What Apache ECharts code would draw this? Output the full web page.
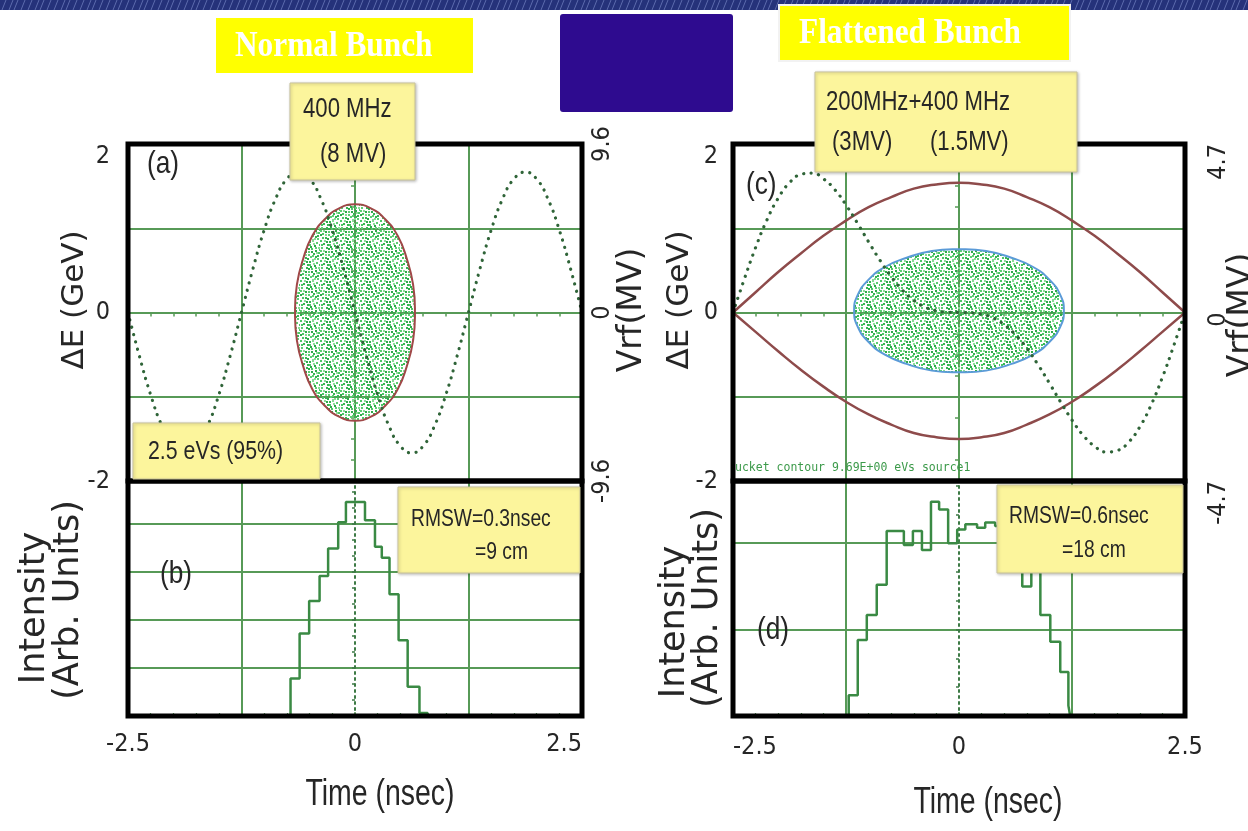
<!DOCTYPE html>
<html><head><meta charset="utf-8">
<script src="https://cdn.jsdelivr.net/npm/echarts@6/dist/echarts.min.js"></script>
<style>html,body{margin:0;padding:0;background:#fff}#c{width:1248px;height:831px}</style>
</head><body><div id="c"></div>
<script>
// ---------------- data ----------------
const T_RF = [-2.5,-2.375,-2.25,-2.125,-2,-1.875,-1.75,-1.625,-1.5,-1.375,-1.25,-1.125,-1,-0.875,-0.75,-0.625,-0.5,-0.375,-0.25,-0.125,0,0.125,0.25,0.375,0.5,0.625,0.75,0.875,1,1.125,1.25,1.375,1.5,1.625,1.75,1.875,2,2.125,2.25,2.375,2.5];
// (a) 400 MHz, 8 MV RF voltage (MV)
const VRF_A = [0,-2.47,-4.70,-6.47,-7.61,-8.00,-7.61,-6.47,-4.70,-2.47,0,2.47,4.70,6.47,7.61,8.00,7.61,6.47,4.70,2.47,0,-2.47,-4.70,-6.47,-7.61,-8.00,-7.61,-6.47,-4.70,-2.47,0,2.47,4.70,6.47,7.61,8.00,7.61,6.47,4.70,2.47,0];
// (c) 200 MHz (3 MV) + 400 MHz (1.5 MV) RF voltage (MV)
const VRF_C = [0,0.93,1.81,2.58,3.19,3.62,3.85,3.89,3.73,3.43,3.00,2.50,1.97,1.46,1.00,0.62,0.34,0.15,0.05,0.01,0,-0.01,-0.05,-0.15,-0.34,-0.62,-1.00,-1.46,-1.97,-2.50,-3.00,-3.43,-3.73,-3.89,-3.85,-3.62,-3.19,-2.58,-1.81,-0.93,0];
// (a) bunch contour (ns, GeV)
const ELL_A_T = [0.66,0.64,0.57,0.47,0.33,0.17,0,-0.17,-0.33,-0.47,-0.57,-0.64,-0.66,-0.64,-0.57,-0.47,-0.33,-0.17,0,0.17,0.33,0.47,0.57,0.64];
const ELL_A_E = [0,0.33,0.64,0.91,1.11,1.24,1.285,1.24,1.11,0.91,0.64,0.33,0,-0.33,-0.64,-0.91,-1.11,-1.24,-1.285,-1.24,-1.11,-0.91,-0.64,-0.33];
// (c) bunch contour (ns, GeV)
const ELL_C_T = [1.16,1.12,1.00,0.82,0.58,0.30,0,-0.30,-0.58,-0.82,-1.00,-1.12,-1.16,-1.12,-1.00,-0.82,-0.58,-0.30,0,0.30,0.58,0.82,1.00,1.12];
const ELL_C_E = [0.02,0.21,0.39,0.54,0.65,0.73,0.75,0.73,0.65,0.54,0.39,0.21,0.02,-0.17,-0.35,-0.50,-0.61,-0.69,-0.71,-0.69,-0.61,-0.50,-0.35,-0.17];
// (c) bucket separatrix
const SEP_T = [-2.5,-2.25,-2,-1.75,-1.5,-1.25,-1,-0.75,-0.5,-0.25,0,0.25,0.5,0.75,1,1.25,1.5,1.75,2,2.25,2.5];
const SEP_UP = [0,0.24,0.48,0.70,0.91,1.09,1.25,1.37,1.47,1.52,1.54,1.52,1.47,1.37,1.25,1.09,0.91,0.70,0.48,0.24,0];
const SEP_LO = [0,-0.23,-0.46,-0.68,-0.88,-1.06,-1.21,-1.33,-1.43,-1.48,-1.50,-1.48,-1.43,-1.33,-1.21,-1.06,-0.88,-0.68,-0.46,-0.23,0];
// (b) bunch profile histogram: bin edges (ns) and heights (arb.)
const HB_EDGES = [-0.71,-0.61,-0.505,-0.39,-0.296,-0.185,-0.10,0.11,0.22,0.295,0.38,0.48,0.58,0.71,0.80];
const HB_H = [0.78,1.72,2.40,2.92,3.49,4.04,4.46,4.08,3.53,3.30,2.54,1.58,0.61,0.06];
// (d) bunch profile histogram
const HD_EDGES = [-1.22,-1.12,-1.02,-0.91,-0.80,-0.61,-0.51,-0.41,-0.31,-0.22,-0.12,-0.02,0.07,0.20,0.29,0.40,0.50,0.60,0.70,0.80,0.90,1.01,1.12,1.21,1.23];
const HD_H = [0.24,0.88,1.17,1.52,2.14,1.98,2.14,1.92,2.48,2.39,2.00,2.16,2.22,2.18,2.24,2.20,2.05,1.85,1.50,1.72,1.17,0.86,0.51,0.12];
// tick labels
const TIME_LABELS = [-2.5, 0, 2.5];
const DE_LABELS = [-2, 0, 2];
const VRF_A_LABELS = [-9.6, 0, 9.6];
const VRF_C_LABELS = [-4.7, 0, 4.7];

// ---------------- helpers ----------------
const zip = (a, b) => a.map((v, i) => [v, b[i]]);
function stepData(edges, h) {
  const d = [[edges[0], 0]];
  h.forEach((v, i) => d.push([edges[i], v]));
  d.push([edges[edges.length - 1], 0]);
  return d;
}
const NARROW = '"Liberation Sans Narrow","DejaVu Sans Condensed","Liberation Sans",sans-serif';
const SANS = '"Liberation Sans",Arial,sans-serif';
const WIDE = '"DejaVu Sans","Verdana",sans-serif';
const G = '#579a57';
const TXT = '#262626';

function dotTile() {
  const c = document.createElement('canvas'); c.width = 20; c.height = 20;
  const g = c.getContext('2d');
  const cols = ['#4cc766', '#2eaa4a', '#8adb97', '#5ccf73', '#37b653'];
  const p = [[0,0],[6,1],[12,0],[16,2],[3,3],[9,4],[14,5],[18,7],[1,7],[6,7],[11,8],[15,10],[3,10],[8,11],[13,13],[18,12],[0,14],[5,14],[10,16],[15,16],[2,17],[7,18],[12,19],[17,18],[9,1],[19,4],[5,11],[13,3],[8,14],[17,15],[2,13],[11,11],
             [4,0],[15,7],[7,4],[1,4],[10,6],[16,12],[12,15],[5,17],[19,9],[8,8],[14,18],[0,10]];
  p.forEach((q, i) => { g.fillStyle = cols[i % 5]; g.fillRect(q[0], q[1], 2, 2); });
  return c;
}
function bannerTile() {
  const c = document.createElement('canvas'); c.width = 26; c.height = 10;
  const g = c.getContext('2d');
  g.fillStyle = '#25327a'; g.fillRect(0, 0, 26, 10);
  g.strokeStyle = 'rgba(150,165,225,0.5)'; g.lineWidth = 1;
  [[2,0],[9,0],[14,0],[21,0]].forEach(q => { g.beginPath(); g.moveTo(q[0], 10); g.lineTo(q[0] + 4, 0); g.stroke(); });
  return c;
}
const DOTS = { image: dotTile(), repeat: 'repeat' };
const BANNER = { image: bannerTile(), repeat: 'repeat' };

function polyRender(T, E, stroke) {
  return function (params, api) {
    const pts = T.map((t, i) => api.coord([t, E[i]]));
    return { type: 'polygon', shape: { points: pts, smooth: 0.5 },
      style: { fill: DOTS, stroke: stroke, lineWidth: 2 } };
  };
}

const lbl = (extra) => Object.assign({ fontFamily: NARROW, fontSize: 25, color: TXT }, extra);

function upperX(gi) {
  return { gridIndex: gi, type: 'value', min: -2.5, max: 2.5, interval: 1.25,
    axisLine: { show: true, onZero: true, lineStyle: { color: G, width: 2 } },
    axisTick: { show: true, length: 4, lineStyle: { color: G, width: 1.5 } },
    minorTick: { show: true, splitNumber: 5, length: 4, lineStyle: { color: G, width: 1.5 } },
    axisLabel: { show: false },
    splitLine: { show: true, lineStyle: { color: G, width: 2 } } };
}
function lowerX(gi, margin, minAlign, maxAlign) {
  return { gridIndex: gi, type: 'value', min: -2.5, max: 2.5, interval: 1.25,
    axisLine: { show: false, onZero: false },
    axisTick: { show: true, inside: true, length: 4, lineStyle: { color: G, width: 1.5 } },
    minorTick: { show: true, splitNumber: 5, length: 3, lineStyle: { color: G, width: 1.2 } },
    axisLabel: lbl({ margin: margin, formatter: v => TIME_LABELS.includes(v) ? String(v) : '',
      alignMinLabel: minAlign, alignMaxLabel: maxAlign }),
    splitLine: { show: false } };
}
function deAxis(gi, margin) {
  return { gridIndex: gi, type: 'value', min: -2, max: 2, interval: 1, position: 'left',
    axisLine: { show: false, onZero: false }, axisTick: { show: false },
    axisLabel: lbl({ margin: margin, formatter: v => DE_LABELS.includes(v) ? String(v) : '', verticalAlignMaxLabel: 'top' }),
    splitLine: { show: true, lineStyle: { color: G, width: 2 } } };
}
function vrfAxis(gi, lim, labels, margin, align) {
  return { gridIndex: gi, type: 'value', min: -lim, max: lim, interval: lim, position: 'right',
    axisLine: { show: false, onZero: false }, axisTick: { show: false }, splitLine: { show: false },
    axisLabel: lbl({ rotate: 90, align: align, verticalAlign: 'top', margin: margin,
      formatter: v => labels.includes(v) ? String(v) : '' }) };
}
function zeroTickY(gi) {
  return { gridIndex: gi, type: 'value', min: -2, max: 2, interval: 1, position: 'left',
    axisLine: { show: false, onZero: true },
    axisTick: { show: true, length: 4, lineStyle: { color: G, width: 1.5 } },
    minorTick: { show: true, splitNumber: 4, length: 4, lineStyle: { color: G, width: 1.5 } },
    axisLabel: { show: false }, splitLine: { show: false } };
}
function intensityY(gi, max) {
  return { gridIndex: gi, type: 'value', min: 0, max: max, interval: 1, position: 'left',
    axisLine: { show: false, onZero: false }, axisTick: { show: false }, axisLabel: { show: false },
    splitLine: { show: true, lineStyle: { color: G, width: 2 } } };
}
function centerDotY(gi, max) {
  return { gridIndex: gi, type: 'value', min: 0, max: max, interval: 1, position: 'left',
    axisLine: { show: true, onZero: true, lineStyle: { color: '#3d7a45', width: 2, type: [2, 4] } },
    axisTick: { show: true, length: 3, lineStyle: { color: '#3d7a45', width: 1.5 } },
    minorTick: { show: true, splitNumber: 3, length: 3, lineStyle: { color: '#3d7a45', width: 1.5 } },
    axisLabel: { show: false }, splitLine: { show: false } };
}
const vGrid = { symbol: 'none', silent: true, label: { show: false }, animation: false,
  lineStyle: { color: G, width: 2, type: 'solid' }, data: [{ xAxis: -1.25 }, { xAxis: 1.25 }] };
const frame = { show: true, borderColor: '#000', borderWidth: 5, backgroundColor: 'transparent', z: 10 };

function box(x, y, w, h) {
  return { type: 'rect', z: 100, shape: { x: x, y: y, width: w, height: h },
    style: { fill: '#fcf59c', stroke: '#c9c39a', lineWidth: 1, shadowBlur: 3, shadowColor: 'rgba(0,0,0,0.25)', shadowOffsetX: 1, shadowOffsetY: 1 } };
}
// scaled text (the original uses a tall, narrow face)
function txt(x, y, s, font, sx, extra) {
  return { type: 'text', z: 101, x: x, y: y, scaleX: sx || 1,
    style: Object.assign({ text: s, font: font, fill: TXT, align: 'left', verticalAlign: 'middle' }, extra || {}) };
}
function vtxt(x, y, s, font) {
  return { type: 'text', z: 101, x: x, y: y, rotation: Math.PI / 2,
    style: { text: s, font: font, fill: TXT, align: 'center', verticalAlign: 'middle' } };
}
const K = 0.82;
const SERIFB = 'bold 36px "Liberation Serif","Times New Roman",serif';

const option = {
  backgroundColor: '#fff',
  animation: false,
  grid: [
    Object.assign({ left: 128, top: 144, width: 454, height: 337 }, frame),
    Object.assign({ left: 128, top: 481, width: 454, height: 235 }, frame),
    Object.assign({ left: 733, top: 144, width: 452, height: 337 }, frame),
    Object.assign({ left: 733, top: 481, width: 452, height: 235 }, frame)
  ],
  xAxis: [upperX(0), lowerX(1, 16, 'center', 'right'), upperX(2), lowerX(3, 19, 'left', 'center')],
  yAxis: [
    deAxis(0, 18), vrfAxis(0, 9.6, VRF_A_LABELS, 8, 'center'), zeroTickY(0),
    intensityY(1, 4.9), centerDotY(1, 4.9),
    deAxis(2, 15), vrfAxis(2, 4.7, VRF_C_LABELS, 21, 'right'), zeroTickY(2),
    intensityY(3, 2.72), centerDotY(3, 2.72)
  ],
  series: [
    { type: 'custom', xAxisIndex: 0, yAxisIndex: 0, z: 3, data: [[0, 0]], silent: true,
      renderItem: polyRender(ELL_A_T, ELL_A_E, '#a04848') },
    { type: 'line', xAxisIndex: 0, yAxisIndex: 1, z: 4, data: zip(T_RF, VRF_A), smooth: true, symbol: 'none',
      lineStyle: { color: '#2f6438', width: 3.2, type: [0.1, 7.5], cap: 'round' } },
    { type: 'line', xAxisIndex: 1, yAxisIndex: 3, z: 4, data: stepData(HB_EDGES, HB_H), step: 'end', symbol: 'none',
      lineStyle: { color: '#3a8a44', width: 2.5 }, markLine: vGrid },
    { type: 'custom', xAxisIndex: 2, yAxisIndex: 5, z: 3, data: [[0, 0]], silent: true,
      renderItem: polyRender(ELL_C_T, ELL_C_E, '#5b9bd8') },
    { type: 'line', xAxisIndex: 2, yAxisIndex: 5, z: 4, data: zip(SEP_T, SEP_UP), smooth: true, symbol: 'none',
      lineStyle: { color: '#8e4b4b', width: 2.5 } },
    { type: 'line', xAxisIndex: 2, yAxisIndex: 5, z: 4, data: zip(SEP_T, SEP_LO), smooth: true, symbol: 'none',
      lineStyle: { color: '#8e4b4b', width: 2.5 } },
    { type: 'line', xAxisIndex: 2, yAxisIndex: 6, z: 4, data: zip(T_RF, VRF_C), smooth: true, symbol: 'none',
      lineStyle: { color: '#2f6438', width: 3.2, type: [0.1, 7.5], cap: 'round' } },
    { type: 'line', xAxisIndex: 3, yAxisIndex: 8, z: 4, data: stepData(HD_EDGES, HD_H), step: 'end', symbol: 'none',
      lineStyle: { color: '#3a8a44', width: 2.5 }, markLine: vGrid }
  ],
  graphic: [
    { type: 'rect', z: 100, shape: { x: 0, y: 0, width: 1248, height: 10 }, style: { fill: BANNER } },
    { type: 'rect', z: 100, shape: { x: 216, y: 18, width: 257, height: 55 }, style: { fill: '#ffff00' } },
    txt(235, 47, 'Normal Bunch', SERIFB, 0.87, { fill: '#ffffff' }),
    { type: 'rect', z: 100, shape: { x: 560, y: 14, width: 173, height: 98, r: 3 }, style: { fill: '#2e0b8f' } },
    { type: 'rect', z: 100, shape: { x: 779, y: 5, width: 291, height: 56 }, style: { fill: '#ffff00', stroke: '#f2f2f2', lineWidth: 2 } },
    txt(799, 34, 'Flattened Bunch', SERIFB, 0.87, { fill: '#ffffff' }),

    box(290, 83, 125, 97), txt(303, 110, '400 MHz', '27px ' + SANS, K), txt(320, 155, '(8 MV)', '27px ' + SANS, K),
    box(133, 423, 187, 56), txt(148, 452, '2.5 eVs (95%)', '26px ' + SANS, K),
    box(398, 487, 182, 86), txt(411, 520, 'RMSW=0.3nsec', '23.5px ' + SANS, K), txt(475, 553, '=9 cm', '23.5px ' + SANS, K),
    box(815, 72, 262, 100), txt(826, 103, '200MHz+400 MHz', '27px ' + SANS, K), txt(832, 143, '(3MV)', '27px ' + SANS, K), txt(930, 143, '(1.5MV)', '27px ' + SANS, K),
    box(997, 485, 186, 88), txt(1009, 517, 'RMSW=0.6nsec', '23.5px ' + SANS, K), txt(1062, 551, '=18 cm', '23.5px ' + SANS, K),

    txt(147, 164, '(a)', '32px ' + SANS, K), txt(160, 574, '(b)', '32px ' + SANS, K),
    txt(746, 185, '(c)', '32px ' + SANS, K), txt(757, 630, '(d)', '32px ' + SANS, K),
    { type: 'text', z: 5, x: 735, y: 468, style: { text: 'ucket contour 9.69E+00 eVs source1', font: '11.5px "DejaVu Sans Mono",monospace', fill: '#3c9a4a', verticalAlign: 'middle' } },

    vtxt(75, 300, 'ΔE (GeV)', '31px ' + WIDE), vtxt(680, 300, 'ΔE (GeV)', '31px ' + WIDE),
    vtxt(632, 310, 'Vrf(MV)', '33px ' + WIDE), vtxt(1242, 315, 'Vrf(MV)', '33px ' + WIDE),
    vtxt(35, 608, 'Intensity', '35px ' + WIDE), vtxt(69, 600, '(Arb. Units)', '35px ' + WIDE),
    vtxt(675, 622, 'Intensity', '35px ' + WIDE), vtxt(708, 608, '(Arb. Units)', '35px ' + WIDE),
    txt(380, 795, 'Time (nsec)', '36px ' + SANS, 0.79, { align: 'center' }),
    txt(988, 803, 'Time (nsec)', '36px ' + SANS, 0.79, { align: 'center' })
  ]
};
const chart = echarts.init(document.getElementById('c'), null, { renderer: 'canvas' });
chart.setOption(option);
</script></body></html>
